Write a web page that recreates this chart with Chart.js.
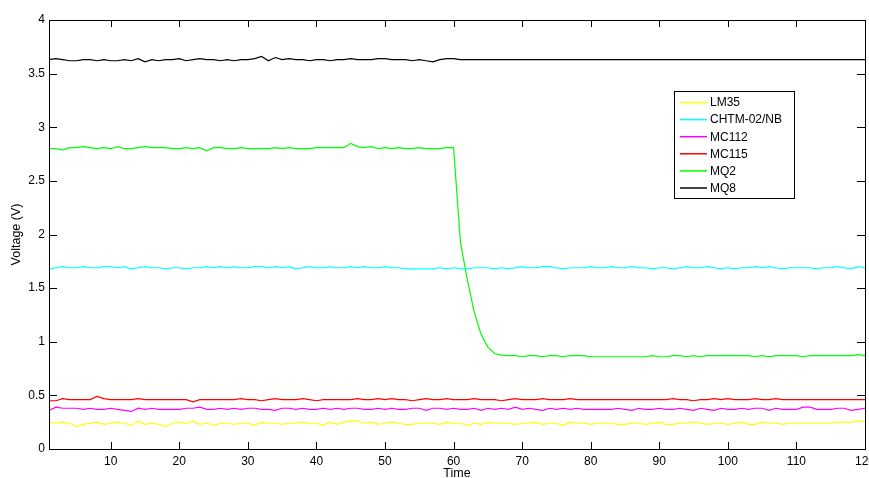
<!DOCTYPE html>
<html>
<head>
<meta charset="utf-8">
<script src="https://cdn.jsdelivr.net/npm/chart.js@4"></script>
<style>
  html, body { margin: 0; padding: 0; background: #fff; }
  #wrap { width: 869px; height: 478px; }
</style>
</head>
<body>
<div id="wrap"><canvas id="myChart" width="869" height="478"></canvas></div>
<script>
// time steps 1..120
const time = [];
for (let i = 1; i <= 120; i++) time.push(i);

const xTicks = [10, 20, 30, 40, 50, 60, 70, 80, 90, 100, 110, 120];
const seriesNames = ['LM35', 'CHTM-02/NB', 'MC112', 'MC115', 'MQ2', 'MQ8'];
const seriesColors = ['#ffff00', '#00ffff', '#ff00ff', '#ff0000', '#00ff00', '#000000'];

const lm35 = [
  0.25,0.24,0.25,0.24,0.21,0.23,0.24,0.25,0.23,0.24,
  0.25,0.24,0.22,0.26,0.23,0.24,0.23,0.21,0.24,0.25,
  0.24,0.26,0.23,0.24,0.22,0.24,0.24,0.23,0.24,0.24,
  0.22,0.25,0.24,0.24,0.23,0.24,0.24,0.25,0.24,0.24,
  0.22,0.25,0.23,0.25,0.26,0.26,0.24,0.25,0.23,0.24,
  0.25,0.24,0.23,0.23,0.24,0.24,0.24,0.23,0.25,0.24,
  0.24,0.22,0.24,0.23,0.25,0.24,0.24,0.24,0.23,0.24,
  0.24,0.25,0.23,0.24,0.24,0.22,0.25,0.24,0.24,0.23,
  0.24,0.24,0.24,0.23,0.23,0.24,0.24,0.23,0.24,0.25,
  0.23,0.23,0.24,0.24,0.25,0.24,0.23,0.24,0.24,0.23,
  0.24,0.25,0.23,0.23,0.25,0.24,0.24,0.23,0.24,0.24,
  0.24,0.24,0.24,0.24,0.24,0.25,0.25,0.25,0.26,0.25
];
const chtm = [
  1.68,1.69,1.70,1.69,1.69,1.70,1.69,1.69,1.70,1.70,
  1.69,1.70,1.68,1.69,1.70,1.69,1.69,1.68,1.69,1.69,
  1.68,1.69,1.69,1.70,1.69,1.70,1.69,1.70,1.69,1.69,
  1.70,1.70,1.69,1.70,1.69,1.70,1.68,1.69,1.70,1.69,
  1.69,1.70,1.69,1.69,1.70,1.69,1.70,1.69,1.69,1.70,
  1.69,1.69,1.68,1.68,1.68,1.68,1.68,1.69,1.68,1.69,
  1.68,1.68,1.69,1.69,1.69,1.68,1.69,1.68,1.69,1.70,
  1.69,1.69,1.70,1.70,1.69,1.68,1.69,1.69,1.69,1.70,
  1.69,1.69,1.70,1.69,1.69,1.70,1.69,1.69,1.68,1.69,
  1.69,1.68,1.69,1.70,1.69,1.69,1.70,1.69,1.68,1.69,
  1.68,1.69,1.69,1.70,1.69,1.70,1.69,1.68,1.69,1.69,
  1.69,1.69,1.68,1.69,1.69,1.70,1.69,1.68,1.70,1.69
];
const mc112 = [
  0.36,0.39,0.38,0.38,0.38,0.37,0.38,0.37,0.37,0.38,
  0.37,0.36,0.35,0.38,0.37,0.38,0.37,0.37,0.37,0.37,
  0.38,0.38,0.39,0.37,0.37,0.38,0.37,0.38,0.37,0.38,
  0.38,0.37,0.37,0.36,0.38,0.38,0.37,0.38,0.37,0.37,
  0.38,0.37,0.38,0.37,0.38,0.38,0.37,0.37,0.38,0.37,
  0.38,0.37,0.37,0.38,0.38,0.36,0.38,0.38,0.37,0.38,
  0.37,0.37,0.38,0.36,0.38,0.37,0.38,0.37,0.39,0.37,
  0.38,0.37,0.36,0.38,0.37,0.38,0.37,0.38,0.37,0.37,
  0.37,0.37,0.37,0.38,0.37,0.36,0.38,0.37,0.37,0.38,
  0.37,0.37,0.38,0.37,0.36,0.38,0.37,0.36,0.38,0.37,
  0.37,0.38,0.37,0.38,0.38,0.36,0.38,0.37,0.37,0.37,
  0.39,0.39,0.37,0.37,0.37,0.38,0.38,0.36,0.37,0.38
];
const mc115 = [
  0.45,0.45,0.47,0.46,0.46,0.46,0.46,0.49,0.47,0.46,
  0.46,0.46,0.46,0.47,0.46,0.46,0.46,0.46,0.46,0.46,
  0.46,0.44,0.46,0.46,0.46,0.46,0.46,0.46,0.47,0.46,
  0.46,0.45,0.46,0.47,0.46,0.46,0.46,0.47,0.46,0.45,
  0.46,0.46,0.46,0.46,0.46,0.47,0.46,0.46,0.47,0.46,
  0.47,0.46,0.46,0.45,0.46,0.47,0.46,0.46,0.47,0.46,
  0.46,0.46,0.47,0.46,0.46,0.46,0.45,0.46,0.47,0.46,
  0.46,0.46,0.47,0.46,0.46,0.46,0.47,0.46,0.46,0.46,
  0.46,0.46,0.46,0.46,0.46,0.46,0.46,0.46,0.46,0.46,
  0.46,0.47,0.46,0.46,0.45,0.46,0.46,0.47,0.46,0.47,
  0.46,0.46,0.46,0.47,0.46,0.46,0.47,0.46,0.46,0.46,
  0.46,0.46,0.46,0.46,0.46,0.46,0.46,0.46,0.46,0.46
];
const mq2 = [
  2.80,2.80,2.79,2.81,2.81,2.82,2.81,2.80,2.81,2.80,
  2.82,2.80,2.80,2.81,2.82,2.81,2.81,2.81,2.80,2.80,
  2.81,2.80,2.81,2.78,2.81,2.81,2.80,2.80,2.81,2.80,
  2.80,2.80,2.80,2.81,2.80,2.81,2.80,2.80,2.80,2.81,
  2.81,2.81,2.81,2.81,2.85,2.82,2.81,2.82,2.80,2.81,
  2.80,2.81,2.80,2.80,2.81,2.80,2.80,2.80,2.81,2.81,
  1.93,1.58,1.28,1.07,0.95,0.89,0.875,0.87,0.87,0.86,
  0.87,0.87,0.86,0.87,0.87,0.86,0.87,0.87,0.87,0.86,
  0.86,0.86,0.86,0.86,0.86,0.86,0.86,0.86,0.87,0.86,
  0.86,0.87,0.87,0.86,0.87,0.86,0.87,0.87,0.87,0.87,
  0.87,0.87,0.87,0.86,0.87,0.86,0.87,0.87,0.87,0.87,
  0.86,0.87,0.87,0.87,0.87,0.87,0.87,0.87,0.88,0.87
];
const mq8 = [
  3.63,3.64,3.63,3.62,3.62,3.63,3.63,3.62,3.63,3.62,
  3.62,3.63,3.62,3.64,3.61,3.63,3.62,3.63,3.63,3.64,
  3.62,3.63,3.64,3.63,3.63,3.62,3.63,3.62,3.63,3.63,
  3.64,3.66,3.62,3.65,3.63,3.64,3.63,3.63,3.62,3.63,
  3.63,3.62,3.63,3.63,3.64,3.63,3.63,3.63,3.64,3.64,
  3.63,3.63,3.63,3.62,3.63,3.62,3.61,3.63,3.64,3.64,
  3.63,3.63,3.63,3.63,3.63,3.63,3.63,3.63,3.63,3.63,
  3.63,3.63,3.63,3.63,3.63,3.63,3.63,3.63,3.63,3.63,
  3.63,3.63,3.63,3.63,3.63,3.63,3.63,3.63,3.63,3.63,
  3.63,3.63,3.63,3.63,3.63,3.63,3.63,3.63,3.63,3.63,
  3.63,3.63,3.63,3.63,3.63,3.63,3.63,3.63,3.63,3.63,
  3.63,3.63,3.63,3.63,3.63,3.63,3.63,3.63,3.63,3.63
];

const allSeries = [lm35, chtm, mc112, mc115, mq2, mq8];
const FONT = '"Liberation Sans", Arial, sans-serif';

// matlab style frame, inward ticks, axis titles and legend box
const matlabFrame = {
  id: 'matlabFrame',
  afterDraw(chart) {
    const c = chart.ctx;
    const a = chart.chartArea;
    const xs = chart.scales.x, ys = chart.scales.y;
    c.save();
    c.strokeStyle = '#000';
    c.lineWidth = 1;
    c.strokeRect(Math.round(a.left) + 0.5, Math.round(a.top) + 0.5,
      Math.round(a.right - a.left), Math.round(a.bottom - a.top));
    c.beginPath();
    xs.ticks.forEach(t => {
      const px = Math.round(xs.getPixelForValue(t.value)) + 0.5;
      c.moveTo(px, a.bottom); c.lineTo(px, a.bottom - 7);
      c.moveTo(px, a.top); c.lineTo(px, a.top + 7);
    });
    ys.ticks.forEach(t => {
      const py = Math.round(ys.getPixelForValue(t.value)) + 0.5;
      c.moveTo(a.left, py); c.lineTo(a.left + 8, py);
      c.moveTo(a.right, py); c.lineTo(a.right - 8, py);
    });
    c.stroke();

    // axis titles
    c.fillStyle = '#000';
    c.font = '12.5px ' + FONT;
    c.textAlign = 'center';
    c.textBaseline = 'alphabetic';
    c.fillText('Time', (a.left + a.right) / 2, 477);
    c.translate(20, (a.top + a.bottom) / 2);
    c.rotate(-Math.PI / 2);
    c.fillText('Voltage (V)', 0, 0);
    c.restore();

    // legend
    c.save();
    const lx = 674, ly = 91, lw = 120, lh = 107;
    c.fillStyle = '#fff';
    c.fillRect(lx, ly, lw, lh);
    c.strokeStyle = '#000';
    c.lineWidth = 1;
    c.strokeRect(lx + 0.5, ly + 0.5, lw, lh);
    c.font = '12px ' + FONT;
    c.textAlign = 'left';
    c.textBaseline = 'middle';
    seriesNames.forEach((n, i) => {
      const y = ly + 11.5 + i * 17.1;
      c.strokeStyle = seriesColors[i];
      c.lineWidth = 1.5;
      c.beginPath();
      c.moveTo(680, y);
      c.lineTo(707, y);
      c.stroke();
      c.fillStyle = '#000';
      c.fillText(n, 710, y + 0.5);
    });
    c.restore();
  }
};

const ctx = document.getElementById('myChart').getContext('2d');
new Chart(ctx, {
  type: 'line',
  data: {
    labels: time,
    datasets: seriesNames.map((n, i) => ({
      label: n,
      data: allSeries[i].map((v, k) => ({ x: time[k], y: v })),
      borderColor: seriesColors[i],
      backgroundColor: seriesColors[i],
      borderWidth: 1.2,
      pointRadius: 0,
      tension: 0,
      fill: false
    }))
  },
  options: {
    responsive: false,
    animation: false,
    layout: { padding: { top: 20, right: 4, left: 0, bottom: 0 } },
    plugins: { legend: { display: false }, tooltip: { enabled: false } },
    scales: {
      x: {
        type: 'linear',
        min: 1,
        max: 120,
        afterBuildTicks(scale) { scale.ticks = xTicks.map(v => ({ value: v })); },
        afterFit(scale) { scale.height = 29; scale.paddingRight = 0; scale.paddingLeft = 0; },
        grid: { display: false, drawTicks: false },
        border: { display: false },
        ticks: { color: '#000', font: { family: FONT, size: 12 }, padding: 5, maxRotation: 0 }
      },
      y: {
        min: 0,
        max: 4,
        ticks: {
          stepSize: 0.5, color: '#000', font: { family: FONT, size: 12 }, padding: 4,
          callback: v => String(Math.round(v * 10) / 10)
        },
        afterFit(scale) { scale.width = 49; scale.paddingTop = 0; scale.paddingBottom = 0; },
        grid: { display: false, drawTicks: false },
        border: { display: false }
      }
    }
  },
  plugins: [matlabFrame]
});
</script>
</body>
</html>
